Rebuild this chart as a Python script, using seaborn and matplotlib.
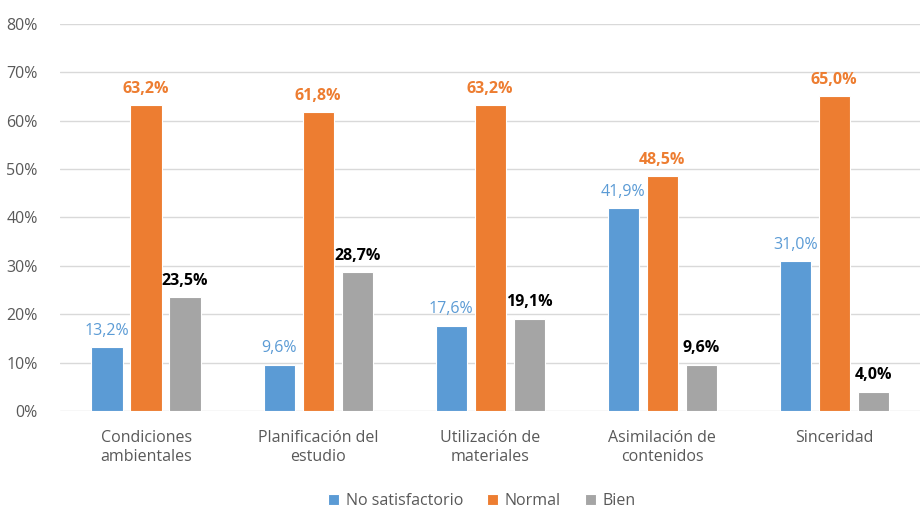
import matplotlib
matplotlib.use("Agg")
import matplotlib.pyplot as plt
import pandas as pd
import seaborn as sns

categorias = ["Condiciones\nambientales", "Planificación del\nestudio", "Utilización de\nmateriales",
              "Asimilación de\ncontenidos", "Sinceridad"]
niveles = ["No satisfactorio", "Normal", "Bien"]
no_satisfactorio = [13.2, 9.6, 17.6, 41.9, 31.0]
normal = [63.2, 61.8, 63.2, 48.5, 65.0]
bien = [23.5, 28.7, 19.1, 9.6, 4.0]

colores = ["#5B9BD5", "#ED7D31", "#A5A5A5"]
colores_etiqueta = ["#5B9BD5", "#ED7D31", "#000000"]
pesos = ["normal", "bold", "bold"]

data = pd.DataFrame({
    "categoria": categorias * 3,
    "nivel": [n for n in niveles for _ in categorias],
    "valor": no_satisfactorio + normal + bien,
})

sns.set_theme(style="white")
plt.rcParams["font.family"] = ["Open Sans", "DejaVu Sans"]

fig = plt.figure(figsize=(9.24, 5.08), dpi=100)
ax = fig.add_axes([0.065, 0.191, 0.931, 0.762])

sns.barplot(data=data, x="categoria", y="valor", hue="nivel", hue_order=niveles,
            palette=colores, width=0.68, gap=0.2, saturation=1, ax=ax, legend=True,
            edgecolor="white", linewidth=0.8)

for i, cont in enumerate(ax.containers):
    labels = [("%.1f%%" % v).replace(".", ",") for v in cont.datavalues]
    ax.bar_label(cont, labels=labels, padding=6, color=colores_etiqueta[i],
                 fontweight=pesos[i], fontsize=11.5)

ax.set_ylim(0, 80)
ax.set_yticks(range(0, 81, 10))
ax.set_yticklabels(["%d%%" % t for t in range(0, 81, 10)])
ax.yaxis.grid(True, color="#D9D9D9", linewidth=1)
ax.set_axisbelow(True)
for s in ax.spines.values():
    s.set_visible(False)
ax.tick_params(axis="y", length=0, labelsize=11.5, colors="#595959", pad=16)
ax.tick_params(axis="x", length=0, labelsize=11.5, colors="#595959", pad=14)
ax.set_xlabel("")
ax.set_ylabel("")
ax.set_xlim(-0.5, 4.5)

ax.legend(loc="upper center", bbox_to_anchor=(0.49, -0.175), ncol=3, frameon=False,
          fontsize=11.5, handlelength=0.7, handleheight=0.7, handletextpad=0.4,
          columnspacing=1.5, labelcolor="#595959")

fig.savefig("out.png", dpi=100)
